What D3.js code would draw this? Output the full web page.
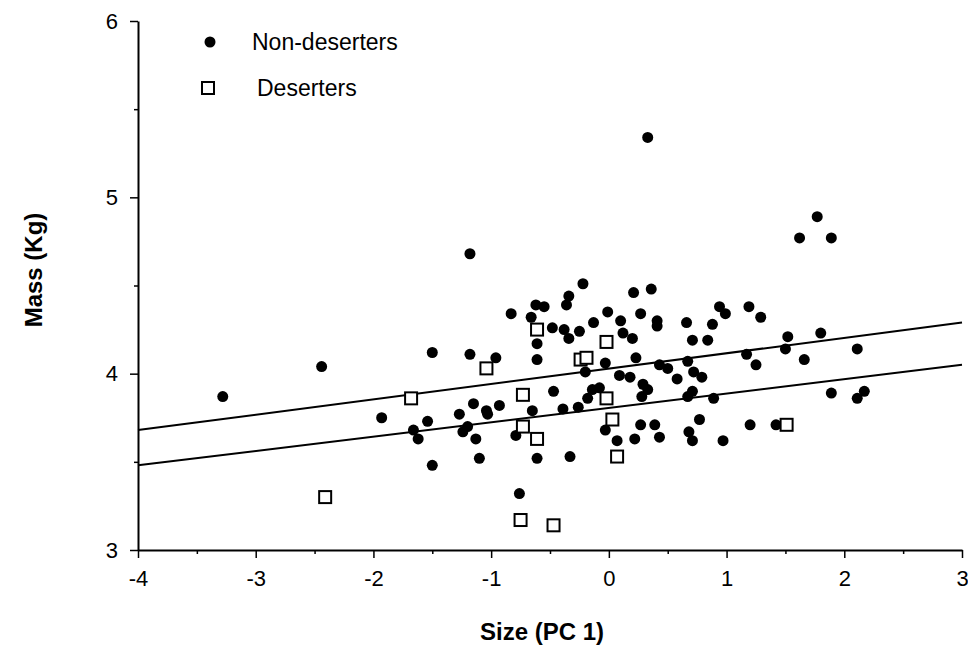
<!DOCTYPE html>
<html>
<head>
<meta charset="utf-8">
<script src="https://cdn.jsdelivr.net/npm/d3@7/dist/d3.min.js"></script>
<style>
  html, body { margin: 0; padding: 0; background: #fff; }
  svg { display: block; font-family: "Liberation Sans", Arial, Helvetica, sans-serif; }
</style>
</head>
<body>
<svg id="chart" width="968" height="658"></svg>
<script>
// ---- data ----
const nonDesertersX = [-3.28,-2.44,-1.93,-1.66,-1.62,-1.54,-1.50,-1.50,-1.18,-0.96,-1.27,-1.20,-1.24,-1.13,-1.15,-1.04,-1.03,-0.93,-1.10,-1.18,
  -0.83,-0.66,-0.62,-0.55,-0.61,-0.61,-0.65,-0.79,-0.61,-0.76,-0.48,-0.38,-0.34,-0.36,-0.34,-0.22,-0.25,-0.13,-0.47,-0.39,
  -0.26,-0.18,-0.14,-0.08,-0.20,-0.33,-0.01,0.10,0.21,0.36,0.27,0.41,0.41,0.12,0.20,-0.03,0.23,0.09,0.18,0.43,
  0.50,0.29,0.33,0.28,-0.03,0.07,0.27,0.39,0.22,0.43,0.33,0.58,0.67,0.72,0.79,0.71,0.67,0.89,0.77,0.68,
  0.71,0.97,1.20,1.42,0.94,0.99,1.19,1.29,0.66,0.88,0.71,0.84,1.52,1.80,1.17,1.50,1.25,1.66,2.11,1.89,
  2.17,2.11,1.77,1.62,1.89];
const nonDesertersY = [3.87,4.04,3.75,3.68,3.63,3.73,3.48,4.12,4.11,4.09,3.77,3.70,3.67,3.63,3.83,3.79,3.77,3.82,3.52,4.68,
  4.34,4.32,4.39,4.38,4.17,4.08,3.79,3.65,3.52,3.32,4.26,4.25,4.20,4.39,4.44,4.51,4.24,4.29,3.90,3.80,
  3.81,3.86,3.91,3.92,4.01,3.53,4.35,4.30,4.46,4.48,4.34,4.30,4.27,4.23,4.20,4.06,4.09,3.99,3.98,4.05,
  4.03,3.94,3.91,3.87,3.68,3.62,3.71,3.71,3.63,3.64,5.34,3.97,4.07,4.01,3.98,3.90,3.87,3.86,3.74,3.67,
  3.62,3.62,3.71,3.71,4.38,4.34,4.38,4.32,4.29,4.28,4.19,4.19,4.21,4.23,4.11,4.14,4.05,4.08,4.14,3.89,
  3.90,3.86,4.89,4.77,4.77];
const desertersX = [-1.68,-2.41,-1.04,-0.61,-0.24,-0.19,-0.02,-0.73,-0.02,-0.73,-0.61,0.03,0.07,-0.75,-0.47,1.51];
const desertersY = [3.86,3.30,4.03,4.25,4.08,4.09,4.18,3.88,3.86,3.70,3.63,3.74,3.53,3.17,3.14,3.71];
const lineX = [-4, 3];
const upperLineY = [3.68, 4.29];
const lowerLineY = [3.48, 4.05];
const xTicks = [-4, -3, -2, -1, 0, 1, 2, 3];
const yTicks = [3, 4, 5, 6];
const xMinorTicks = [-3.5, -2.5, -1.5, -0.5, 0.5, 1.5, 2.5];
const yMinorTicks = [3.5, 4.5, 5.5];
const legendLabels = ["Non-deserters", "Deserters"];
const xTitle = "Size (PC 1)";
const yTitle = "Mass (Kg)";

// ---- layout ----
const svg = d3.select("#chart");
const x = d3.scaleLinear().domain([-4, 3]).range([138, 962]);
const y = d3.scaleLinear().domain([3, 6]).range([550, 21]);
const fmt = d => String(d);   // plain hyphen-minus like the original

// regression lines
const lineGen = d3.line().x(d => x(d[0])).y(d => y(d[1]));
[upperLineY, lowerLineY].forEach(ys => {
  svg.append("path")
    .datum(lineX.map((v, i) => [v, ys[i]]))
    .attr("d", lineGen)
    .attr("fill", "none")
    .attr("stroke", "#000")
    .attr("stroke-width", 2);
});

// non-deserters (filled dots)
svg.append("g").selectAll("circle")
  .data(nonDesertersX.map((v, i) => [v, nonDesertersY[i]]))
  .join("circle")
  .attr("cx", d => x(d[0]))
  .attr("cy", d => y(d[1]))
  .attr("r", 5.5)
  .attr("fill", "#000");

// deserters (open squares)
const sq = 12;
svg.append("g").selectAll("rect")
  .data(desertersX.map((v, i) => [v, desertersY[i]]))
  .join("rect")
  .attr("x", d => x(d[0]) - sq / 2)
  .attr("y", d => y(d[1]) - sq / 2)
  .attr("width", sq)
  .attr("height", sq)
  .attr("fill", "#fff")
  .attr("stroke", "#000")
  .attr("stroke-width", 2);

// axes
svg.append("g").attr("transform", "translate(0,550)")
  .call(d3.axisBottom(x).tickValues(xTicks).tickSize(8).tickPadding(12).tickSizeOuter(0).tickFormat(fmt));
svg.append("g").attr("transform", "translate(0,550)")
  .call(d3.axisBottom(x).tickValues(xMinorTicks).tickSize(4).tickFormat("").tickSizeOuter(0))
  .select(".domain").remove();
svg.append("g").attr("transform", "translate(138,0)")
  .call(d3.axisLeft(y).tickValues(yTicks).tickSize(8).tickPadding(12).tickSizeOuter(0).tickFormat(fmt));
svg.append("g").attr("transform", "translate(138,0)")
  .call(d3.axisLeft(y).tickValues(yMinorTicks).tickSize(4).tickFormat("").tickSizeOuter(0))
  .select(".domain").remove();

svg.selectAll(".domain").attr("stroke", "#000").attr("stroke-width", 2);
svg.selectAll(".tick line").attr("stroke", "#000").attr("stroke-width", 1.5);
svg.selectAll(".tick text")
  .attr("font-family", "'Liberation Sans', Arial, Helvetica, sans-serif")
  .attr("font-size", 22)
  .attr("fill", "#000");

// axis titles
svg.append("text")
  .attr("x", x(-0.5) - 8)
  .attr("y", 640)
  .attr("text-anchor", "middle")
  .attr("font-size", 24)
  .attr("font-weight", "bold")
  .text(xTitle);
svg.append("text")
  .attr("transform", "translate(42,270) rotate(-90)")
  .attr("text-anchor", "middle")
  .attr("font-size", 24)
  .attr("font-weight", "bold")
  .text(yTitle);

// legend
const legend = svg.append("g");
legend.append("circle").attr("cx", 210).attr("cy", 42).attr("r", 5.5).attr("fill", "#000");
legend.append("rect").attr("x", 202).attr("y", 82).attr("width", sq).attr("height", sq)
  .attr("fill", "#fff").attr("stroke", "#000").attr("stroke-width", 2);
legend.selectAll("text.lg")
  .data(legendLabels)
  .join("text")
  .attr("class", "lg")
  .attr("x", (d, i) => i === 0 ? 252 : 257)
  .attr("y", (d, i) => i === 0 ? 50 : 96)
  .attr("font-size", 23)
  .attr("fill", "#000")
  .text(d => d);
</script>
</body>
</html>
